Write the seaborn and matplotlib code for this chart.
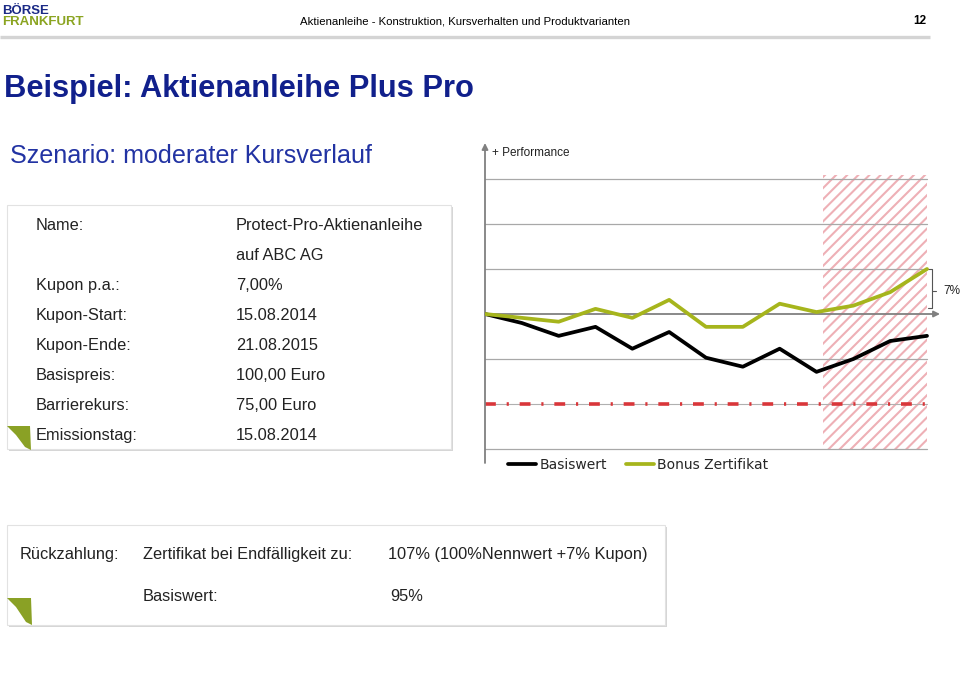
import numpy as np
import pandas as pd
import matplotlib
matplotlib.use("Agg")
import matplotlib.pyplot as plt
import seaborn as sns
from matplotlib.patches import Rectangle, Polygon
from matplotlib.lines import Line2D

# ---------------- data ----------------
periods = list(range(13))
basiswert = [0, -1.4, -3.4, -2.0, -5.4, -2.8, -6.8, -8.2, -5.4, -9.0, -7.0, -4.2, -3.4]
bonus = [0, -0.6, -1.2, 0.8, -0.6, 2.2, -2.0, -2.0, 1.6, 0.3, 1.3, 3.4, 7.0]
series_names = ["Basiswert", "Bonus Zertifikat"]
grid_levels = [21, 14, 7, -7, -21]
barrier_level = -14
kupon_pct = 7
hatch_start = 9.18

info_labels = ["Name:", "", "Kupon p.a.:", "Kupon-Start:", "Kupon-Ende:",
               "Basispreis:", "Barrierekurs:", "Emissionstag:"]
info_values = ["Protect-Pro-Aktienanleihe", "auf ABC AG", "7,00%", "15.08.2014",
               "21.08.2015", "100,00 Euro", "75,00 Euro", "15.08.2014"]

W, H = 960, 693
sns.set_theme(style="white")
plt.rcParams["font.family"] = ["Liberation Sans", "DejaVu Sans"]
plt.rcParams["hatch.linewidth"] = 1.5

fig = plt.figure(figsize=(9.6, 6.93), dpi=100)
fig.patch.set_facecolor("white")
bg = fig.add_axes([0, 0, 1, 1])
bg.set_xlim(0, W)
bg.set_ylim(H, 0)
bg.axis("off")

NAVY = "#11208c"
BLUE = "#2233a3"
LOGO_GREEN = "#8ba421"
LINE_GREEN = "#a6b51c"
TXT = "#222222"
FS = 11.8

# ---------------- header ----------------
bg.text(2, 13.5, "BÖRSE", fontsize=9.5, fontweight="bold", color="#1b2a86", va="baseline", ha="left")
bg.text(2, 25, "FRANKFURT", fontsize=9.5, fontweight="bold", color=LOGO_GREEN, va="baseline", ha="left")
bg.text(465, 21, "Aktienanleihe - Konstruktion, Kursverhalten und Produktvarianten",
        fontsize=8.2, family=["Liberation Sans Narrow", "Liberation Sans"], color="black",
        va="center", ha="center")
bg.text(926, 21, "12", fontsize=8.5, fontweight="bold", color="black", va="center", ha="right")
bg.plot([0, 930], [37, 37], color="#d4d4d4", lw=2.4, solid_capstyle="butt")

bg.text(4, 97, "Beispiel: Aktienanleihe Plus Pro", fontsize=22.2, fontweight="bold",
        color=NAVY, va="baseline", ha="left")
bg.text(10, 163, "Szenario: moderater Kursverlauf", fontsize=18.1, color=BLUE,
        va="baseline", ha="left")


# ---------------- boxes ----------------
def box(x0, y0, x1, y1):
    bg.add_patch(Rectangle((x0 + 1.5, y0 + 1.5), x1 - x0, y1 - y0, facecolor="#d6d6d6",
                           edgecolor="none", zorder=1))
    bg.add_patch(Rectangle((x0, y0), x1 - x0, y1 - y0, facecolor="white",
                           edgecolor="#e2e2e2", lw=0.8, zorder=2))


def fold(x0, y0, x1, y1):
    pts = [(x0, y0), (x1, y0), (x1 + 1, y1), (x1 - 5, y1 - 3), (x0 + 9, y0 + 9)]
    bg.add_patch(Polygon(pts, closed=True, facecolor="#8aa125", edgecolor="none", zorder=3))


box(7, 205, 451, 449)
fold(7, 426, 30, 450)
for i, (lab, val) in enumerate(zip(info_labels, info_values)):
    yb = 230 + 30 * i
    bg.text(36, yb, lab, fontsize=FS, color=TXT, va="baseline", ha="left", zorder=4)
    bg.text(236, yb, val, fontsize=FS, color=TXT, va="baseline", ha="left", zorder=4)

box(7, 525, 665, 625)
fold(7, 598, 31, 625)
bg.text(20, 559, "Rückzahlung:", fontsize=FS, color=TXT, va="baseline", zorder=4)
bg.text(143, 559, "Zertifikat bei Endfälligkeit zu:", fontsize=FS, color=TXT,
        va="baseline", zorder=4)
bg.text(388, 559, "107% (100%Nennwert +7% Kupon)", fontsize=FS, color=TXT,
        va="baseline", zorder=4)
bg.text(143, 601, "Basiswert:", fontsize=FS, color=TXT, va="baseline", zorder=4)
bg.text(390, 601, "95%", fontsize=FS, color=TXT, va="baseline", zorder=4)

# ---------------- chart ----------------
x0p, x1p, y0p, y1p = 485, 945, 140, 470
ax = fig.add_axes([x0p / W, 1 - y1p / H, (x1p - x0p) / W, (y1p - y0p) / H])
ax.patch.set_alpha(0)
step = (927 - 485) / 12.0
pxper = 45 / 7.0
ax.set_xlim(0, (x1p - x0p) / step)
ax.set_ylim(-(y1p - 314) / pxper, (314 - y0p) / pxper)
ax.axis("off")

# hatched region
ax.add_patch(Rectangle((hatch_start, -21), 12 - hatch_start, 21.6 + 21, facecolor="none",
                       edgecolor="#eeb0b6", hatch="///", lw=0, zorder=1))

for g in grid_levels:
    ax.plot([0, 12], [g, g], color="#a8a8a8", lw=0.9, zorder=2)
ax.plot([0, 12], [barrier_level, barrier_level], color="#b0b0b0", lw=0.8, zorder=2)
ax.plot([0, 12], [barrier_level, barrier_level], color="#d9363a", lw=2.6,
        linestyle=(0, (3, 3, 0.6, 3)), zorder=3)

# axes arrows
ymin_ax = -(463 - 314) / pxper
ax.annotate("", xy=(0, (314 - 143) / pxper), xytext=(0, ymin_ax),
            arrowprops=dict(arrowstyle="-|>", color="#808080", lw=1.3, mutation_scale=9,
                            shrinkA=0, shrinkB=0), zorder=4)
ax.annotate("", xy=((940 - 485) / step, 0), xytext=(0, 0),
            arrowprops=dict(arrowstyle="-|>", color="#808080", lw=1.3, mutation_scale=9,
                            shrinkA=0, shrinkB=0), zorder=4)

df = pd.DataFrame({
    "Periode": periods * 2,
    "Performance": basiswert + bonus,
    "Serie": [series_names[0]] * len(periods) + [series_names[1]] * len(periods),
})
sns.lineplot(data=df, x="Periode", y="Performance", hue="Serie",
             palette={series_names[0]: "black", series_names[1]: LINE_GREEN},
             lw=2.7, ax=ax, zorder=5, legend=False, sort=False)

# 7% bracket
bx = 12.14
ax.plot([12.03, bx, bx, 12.03], [kupon_pct, kupon_pct, 0.9, 0.9], color="#555555",
        lw=0.8, clip_on=False, zorder=4)
ax.plot([bx, 12.24], [3.6, 3.6], color="#555555", lw=0.8, clip_on=False, zorder=4)
ax.text(12.45, 3.6, f"{kupon_pct}%", fontsize=8.5, color=TXT, va="center", ha="left")
ax.text(0.19, (314 - 153) / pxper, "+ Performance", fontsize=8.5, color=TXT,
        va="center", ha="left")

handles = [Line2D([], [], color="black", lw=2.7), Line2D([], [], color=LINE_GREEN, lw=2.7)]
leg = ax.legend(handles, series_names, loc="center left", ncol=2, frameon=False,
                bbox_to_anchor=(508 / W, 1 - 465 / H), bbox_transform=fig.transFigure,
                prop={"family": "DejaVu Sans", "size": 10}, handlelength=2.0,
                handletextpad=0.25, columnspacing=1.4, borderpad=0, borderaxespad=0)

fig.savefig("out.png", dpi=100)
